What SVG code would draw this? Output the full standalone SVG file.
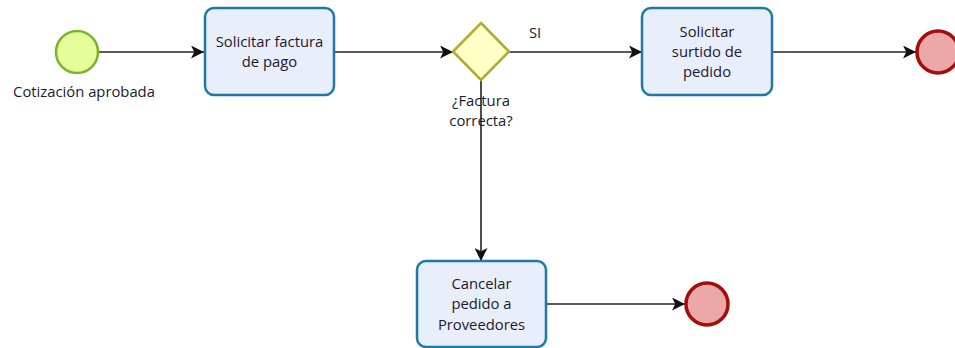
<svg xmlns="http://www.w3.org/2000/svg" width="955" height="348" viewBox="0 0 955 348">
  <defs>
    <marker id="arrow" viewBox="0 0 12 12" refX="12" refY="6" markerWidth="13" markerHeight="13" markerUnits="userSpaceOnUse" orient="auto">
      <path d="M0,0 L12,6 L0,12 L3,6 Z" fill="#111"/>
    </marker>
  </defs>
  <style>
    text { font-family: "Open Sans", "Noto Sans", "DejaVu Sans", sans-serif; font-size: 14.8px; fill: #1a1a2e; text-anchor: middle; }
    .task { fill: #e9eefb; stroke: #1f79a8; stroke-width: 2.5; }
    .start { fill: #e6fd9c; stroke: #79b52b; stroke-width: 2.5; }
    .end { fill: #eca8a8; stroke: #a30d0d; stroke-width: 3.5; }
    .gateway { fill: #ffffc6; stroke: #acac32; stroke-width: 2.5; }
    .flow { fill: none; stroke: #222; stroke-width: 1.6; marker-end: url(#arrow); }
  </style>
  <rect width="955" height="348" fill="#ffffff"/>

  <g id="connectors">
    <path class="flow" d="M99,52 L204,52"/>
    <path class="flow" d="M334,52 L453,52"/>
    <path class="flow" d="M509,52 L642,52"/>
    <path class="flow" d="M772,52 L916,52"/>
    <path class="flow" d="M481,80 L481,261"/>
    <path class="flow" d="M546,304 L685,304"/>
    <text x="535" y="38">SI</text>
  </g>

  <g id="start">
    <circle class="start" cx="77" cy="52" r="21"/>
    <text x="84" y="97">Cotización aprobada</text>
  </g>

  <g id="task-factura">
    <rect class="task" x="205" y="8" width="129" height="87" rx="9"/>
    <text x="269.5" y="47">Solicitar factura</text>
    <text x="269.5" y="67">de pago</text>
  </g>

  <g id="gateway">
    <path class="gateway" d="M481,23 L509,51.5 L481,80 L453,51.5 Z"/>
    <text x="481" y="106">¿Factura</text>
    <text x="481" y="126">correcta?</text>
  </g>

  <g id="task-surtido">
    <rect class="task" x="642" y="8" width="130" height="87" rx="9"/>
    <text x="707" y="37">Solicitar</text>
    <text x="707" y="57">surtido de</text>
    <text x="707" y="77">pedido</text>
  </g>

  <g id="end-1">
    <circle class="end" cx="938" cy="52" r="21"/>
  </g>

  <g id="task-cancelar">
    <rect class="task" x="417" y="261" width="129" height="86" rx="9"/>
    <text x="481.5" y="289">Cancelar</text>
    <text x="481.5" y="309">pedido a</text>
    <text x="481.5" y="330">Proveedores</text>
  </g>

  <g id="end-2">
    <circle class="end" cx="707" cy="304" r="21"/>
  </g>
</svg>
